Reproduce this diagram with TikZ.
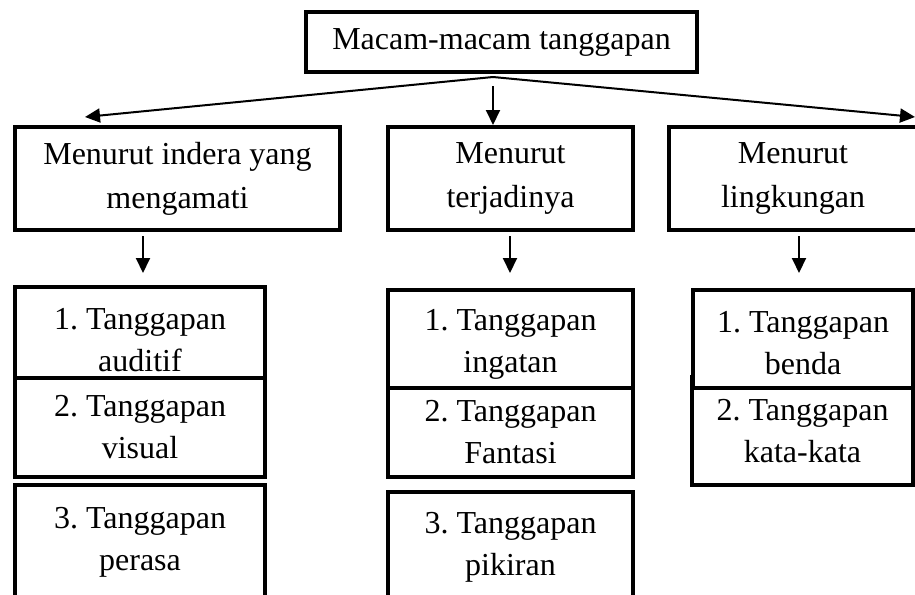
\documentclass[tikz,border=0pt]{standalone}
\usepackage{fontspec}
\setmainfont{Liberation Serif}
\usetikzlibrary{arrows.meta, calc, positioning}
\frenchspacing
\tikzset{
    txt/.style={align=center, inner sep=0pt, font=\fontsize{16}{21}\selectfont},
    box/.style={txt, draw, line width=2pt, fill=white, rectangle},
    group/.style={box, font=\fontsize{16}{22}\selectfont},
    arr/.style={line width=1pt, -{Triangle[length=7.5pt, width=7pt]}}
}

\begin{document}
\begin{tikzpicture}[x=0.5pt, y=-0.5pt]
                \useasboundingbox (0,0) rectangle (915,594);
                % Top
                \node[box, minimum width=391/2, minimum height=60/2] (top) at (501.5,42) {Macam-macam tanggapan};
                
                % Groups
                \node[group, minimum width=325/2, minimum height=103/2] (indera) at (177.5,178.5) {Menurut indera yang\\mengamati};
                \node[group, minimum width=245/2, minimum height=103/2] (terjadi) at (510.5,178.5) {Menurut\\terjadinya};
                \node[group, minimum width=248/2, minimum height=103/2] (lingkung) at (793,178.5) {Menurut\\lingkungan};
                
                % Arrows from top
                \coordinate (fork) at (493,77);
                \coordinate (tipL) at (85,117);
                \coordinate (tipR) at (915,117);
                \draw[arr] (fork) -- (tipL);
                \draw[arr] (fork) -- (tipR);
                \draw[arr] ([yshift=-4.5pt]fork) -- (fork |- terjadi.north);
                
                % Arrows down
                \coordinate (endA) at (143,273);
                \coordinate (endB) at (510,273);
                \coordinate (endC) at (799,273);
                \draw[arr] ([yshift=-2pt]indera.south -| endA) -- (endA);
                \draw[arr] ([yshift=-2pt]terjadi.south -| endB) -- (endB);
                \draw[arr] ([yshift=-2pt]lingkung.south -| endC) -- (endC);
                
                % Indera
                \node[box, minimum width=250/2, minimum height=91/2] (auditif) at (140,332.5) {};
                \node[txt] (auditifText) at ([yshift=-4pt]auditif.center) {1. Tanggapan\\auditif};
                \node[box, minimum width=250/2, minimum height=99/2] (visual) at (140,427.5) {2. Tanggapan\\visual};
                \node[box, minimum width=250/2, minimum height=115/2] (perasa) at (140,542.5) {3. Tanggapan\\perasa};
                
                % Terjadinya
                \node[box, minimum width=245/2, minimum height=98/2] (ingatan) at (510.5,339) {};
                \node[txt] (ingatanText) at ([yshift=-2.5pt]ingatan.center) {1. Tanggapan\\ingatan};
                \node[box, minimum width=245/2, minimum height=89/2] (fantasi) at (510.5,432.5) {2. Tanggapan\\Fantasi};
                \node[box, minimum width=245/2, minimum height=110/2] (pikiran) at (510.5,547) {3. Tanggapan\\pikiran};
                
                % Lingkungan
                \node[box, minimum width=221/2, minimum height=108/2] (kata) at (802.5,431) {2. Tanggapan\\kata-kata};
                \node[box, minimum width=220/2, minimum height=98/2] (benda) at (803,339) {};
                \node[txt] (bendaText) at ([yshift=-2pt]benda.center) {1. Tanggapan\\benda};
            \end{tikzpicture}
\end{document}
